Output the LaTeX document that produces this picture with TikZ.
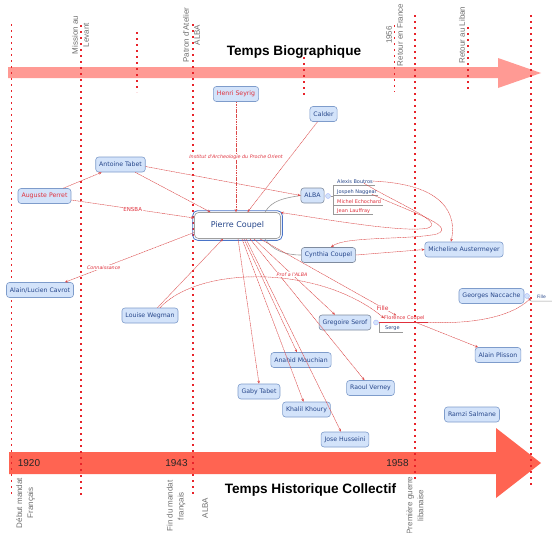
\documentclass[tikz,border=0pt]{standalone}
\usepackage{fontspec}
\setmainfont{Liberation Sans}
\newfontfamily\dvs{DejaVu Sans}
\usetikzlibrary{arrows.meta}
\definecolor{bandlight}{HTML}{FF9A94}
\definecolor{banddark}{HTML}{FF6452}
\definecolor{dotred}{HTML}{E8232A}
\definecolor{nodefill}{HTML}{D3E3FA}
\definecolor{nodedraw}{HTML}{7E9CCB}
\definecolor{nodetext}{HTML}{26468A}
\definecolor{relred}{HTML}{DC4A4A}
\definecolor{txtred}{HTML}{E0303C}
\definecolor{labgray}{HTML}{707070}
\definecolor{pcblue}{HTML}{4A74C8}
\begin{document}
\begin{tikzpicture}[x=1pt,y=-1pt,
 person/.style={rounded corners=3pt, draw=nodedraw, fill=nodefill, line width=0.6pt, text=nodetext, font=\dvs\fontsize{6.2}{7}\selectfont, minimum height=15pt, inner xsep=3.5pt, inner ysep=0pt},
 redtext/.style={text=txtred},
 vline/.style={draw=dotred, line width=1.6pt, dash pattern=on 1.6pt off 4.4pt},
 rot/.style={rotate=90, align=center, text=labgray, font=\fontsize{8}{11}\selectfont, inner sep=0pt},
 rel/.style={draw=relred, line width=0.45pt, dash pattern=on 1.2pt off 0.5pt, -{Stealth[length=3pt,width=2.6pt]}},
 elab/.style={text=txtred, font=\dvs\itshape\fontsize{4.8}{5}\selectfont, fill=white, inner sep=0.5pt},
 topic/.style={draw=gray!80, line width=0.6pt},
 sub/.style={font=\dvs\fontsize{5}{6}\selectfont, text=nodetext, inner sep=0pt, anchor=base west},
 title/.style={font=\bfseries\fontsize{13.6}{16}\selectfont},
 year/.style={font=\fontsize{10}{12}\selectfont, text=black!85},
 knob/.style={circle, fill=nodefill, draw=nodefill!80!blue, inner sep=0pt, minimum size=5pt}
]
\path[use as bounding box, fill=white] (0,0) rectangle (552,533);

% time arrows
\fill[bandlight] (8,67) -- (498,67) -- (498,58) -- (541,73) -- (498,88) -- (498,78) -- (8,78) -- cycle;
\fill[banddark] (9,452) -- (496,452) -- (496,428) -- (541,463) -- (496,498) -- (496,474) -- (9,474) -- cycle;

\node[title] (tb) at (294,52) {Temps Biographique};
\node[title] (th) at (310.5,490) {Temps Historique Collectif};
\node[year] (y1920) at (29,463) {1920};
\node[year] (y1943) at (176.5,463) {1943};
\node[year] (y1958) at (397.5,463) {1958};

% dotted time marks
\draw[vline] (11.5,24) -- (11.5,497);
\draw[vline] (81,25) -- (81,497);
\draw[vline] (136.7,32) -- (136.7,92);
\draw[vline] (192.7,24) -- (192.7,497);
\draw[vline] (304,57) -- (304,97);
\draw[vline] (394.3,25) -- (394.3,92);
\draw[vline] (414.7,15) -- (414.7,482);
\draw[vline] (467.7,27) -- (467.7,92);
\draw[vline] (531,15) -- (531,487);

% rotated labels
\node[rot] (l1) at (80.5,35) {Mission au\\Levant};
\node[rot] (l2) at (191.5,35) {Patron d'Atelier\\ALBA};
\node[rot] (l3) at (394.5,35) {1956\\Retour en France};
\node[rot] (l4) at (462,35) {Retour au Liban};
\node[rot] (l5) at (25.5,503) {Début mandat\\Français};
\node[rot] (l6) at (176,506) {Fin du mandat\\français};
\node[rot] (l7) at (205,508) {ALBA};
\node[rot] (l8) at (415,505.5) {Première guerre\\libanaise};

% people
\node[person, redtext] (seyrig) at (236,94) {Henri Seyrig};
\node[person] (calder) at (323.5,114) {Calder};
\node[person] (tabet) at (120.5,164.5) {Antoine Tabet};
\node[person, redtext] (perret) at (44.5,196) {Auguste Perret};
\node[person, draw=gray!60!nodedraw] (alba) at (312.5,195.5) {ALBA};
\node[person, draw=gray!60!nodedraw] (cynthia) at (328.5,255) {Cynthia Coupel};
\node[person] (micheline) at (464,249.5) {Micheline Austermeyer};
\node[person] (cavrot) at (40,290) {Alain/Lucien Cavrot};
\node[person] (wegman) at (150,315.5) {Louise Wegman};
\node[person] (naccache) at (491.5,296) {Georges Naccache};
\node[person, draw=gray!60!nodedraw] (serof) at (345,322.5) {Gregoire Serof};
\node[person] (plisson) at (498,355) {Alain Plisson};
\node[person] (anahid) at (301,360) {Anahid Mouchian};
\node[person] (raoul) at (370.5,388) {Raoul Verney};
\node[person] (gaby) at (259,391.5) {Gaby Tabet};
\node[person] (khalil) at (306.5,409.5) {Khalil Khoury};
\node[person] (jose) at (345,439.5) {Jose Husseini};
\node[person] (ramzi) at (472,414.5) {Ramzi Salmane};

\node[draw=gray!75, line width=0.7pt, rounded corners=4pt, fill=white, minimum width=86pt, minimum height=26pt, text=nodetext, font=\dvs\fontsize{8}{9}\selectfont] (pc) at (237.5,225.5) {Pierre Coupel};
\draw[pcblue, line width=0.8pt, rounded corners=5pt] ([shift={(-1.5pt,1.5pt)}]pc.north west) rectangle ([shift={(1.5pt,-1.5pt)}]pc.south east);

% ALBA sub-list
\node[knob] (albaknob) at (328,196) {};
\draw[topic, line width=0.5pt] (albaknob) -- (333,196);
\draw[topic, line width=0.5pt] (333,185) -- (333,214);
\draw[topic, line width=0.5pt] (333,185) -- (375,185);
\draw[topic, line width=0.5pt] (333,195) -- (378,195);
\draw[topic, line width=0.5pt] (333,205) -- (383,205);
\draw[topic, line width=0.5pt] (333,214) -- (373,214);
\node[sub] (alexis) at (337,183) {Alexis Boutros};
\node[sub] (joseph) at (337,193) {Jospeh Naggear};
\node[sub, text=txtred] (michel) at (337,203) {Michel Echochard};
\node[sub, text=txtred] (jean) at (337,212.3) {Jean Lauffray};

% Serof sub-list
\node[knob] (serofknob) at (376,322.5) {};
\draw[txtred, line width=0.6pt] (serofknob) -- (428,322.5);
\draw[topic, line width=0.5pt] (379,322.5) -- (379,332) -- (403,332);
\node[sub, text=txtred] (florence) at (384,319.5) {Florence Coupel};
\node[sub] (serge) at (385,329.5) {Serge};
\coordinate (flom) at (416,322.5);
\coordinate (floe) at (428,322.5);

% Naccache sub-list
\node[knob] (naccknob) at (527,296) {};
\draw[topic, line width=0.5pt] (naccknob) -- (531,301) -- (552,301);
\node[sub, font=\dvs\fontsize{4.5}{5}\selectfont] (fille2) at (537,298.5) {Fille};
\coordinate (fille2end) at (531,298);

% topic links
\draw[topic] ([xshift=27.5pt]pc.north) .. controls (272,200) and (285,198) .. (alba.west);
\draw[topic] ([xshift=27.5pt]pc.south) .. controls (272,250) and (285,255) .. (cynthia.west);

% relations
\draw[rel, draw=relred] (seyrig.south) -- node[elab]{Institut d'Archeologie du Proche Orient} (seyrig.south |- pc.north);
\draw[rel] (calder) -- ([xshift=10pt]pc.north);
\draw[rel] (tabet) -- ([xshift=-27pt]pc.north);
\draw[rel] ([yshift=-2pt]tabet.east) -- (alba.west);
\draw[rel] (perret) -- (tabet);
\draw[rel] ([yshift=-4pt]perret.east) -- node[elab, font=\dvs\fontsize{5.5}{6}\selectfont]{ENSBA} ([yshift=7.5pt]pc.west);
\draw[rel] ([yshift=-7pt]pc.west) -- node[elab, pos=0.7]{Connaissance} ([xshift=25pt]cavrot.north);
\draw[rel] (wegman) -- ([xshift=-14.5pt]pc.south);
\draw[rel] ([xshift=10pt]wegman.north) .. controls (200,265) and (320,265) .. (florence.west);
\draw[rel] ([xshift=0.5pt]pc.south) -- (gaby.north);
\draw[rel] ([xshift=4.5pt]pc.south) -- ([xshift=-3pt]khalil.north);
\draw[rel] ([xshift=6.5pt]pc.south) -- ([xshift=-4pt]anahid.north);
\draw[rel] ([xshift=8.5pt]pc.south) -- ([xshift=-4pt]jose.north);
\draw[rel] ([xshift=12.5pt]pc.south) -- ([xshift=-6pt]raoul.north);
\draw[rel] ([xshift=16.5pt]pc.south) -- node[elab, pos=0.47]{Prof a l'ALBA} ([xshift=-10pt]serof.north);
\draw[rel] ([xshift=22.5pt]pc.south) -- node[elab, pos=0.9, font=\dvs\fontsize{6}{7}\selectfont]{Fille} ([xshift=-8pt]florence.north);
\draw[rel] (flom) -- ([xshift=-20pt]plisson.north);
\draw[rel] (floe) .. controls (470,324) and (510,318) .. (fille2end);
\draw[rel] (alexis.east) .. controls (445,184) and (457,215) .. ([xshift=-13pt]micheline.north);
\draw[rel] ([xshift=9pt]alexis.south) .. controls (400,205) and (445,222) .. (428,228) .. controls (405,233) and (330,220) .. ([yshift=13pt]pc.east);
\draw[rel] ([xshift=15pt]joseph.south) .. controls (405,210) and (458,226) .. (437,234) .. controls (410,240) and (345,236) .. ([xshift=2.5pt]cynthia.north);
\draw[rel] (cynthia.east) -- (micheline.west);
\end{tikzpicture}
\end{document}
